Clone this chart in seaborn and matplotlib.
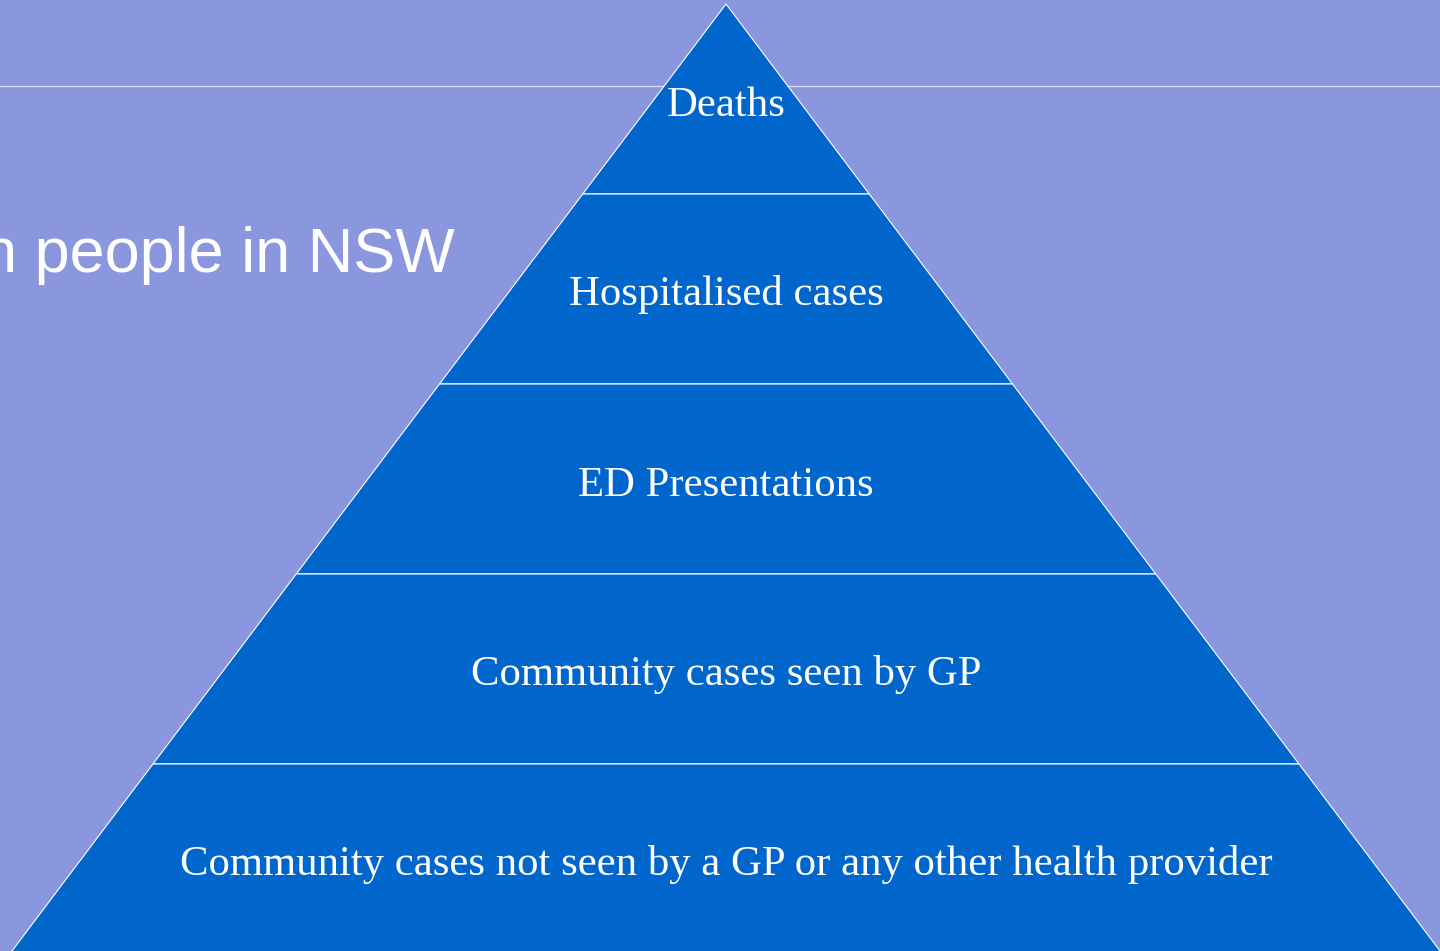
import matplotlib.pyplot as plt
import seaborn as sns

# pyramid levels, top to bottom
levels = [
    "Deaths",
    "Hospitalised cases",
    "ED Presentations",
    "Community cases seen by GP",
    "Community cases not seen by a GP or any other health provider",
]
title_text = "n people in NSW"

bg = "#8a96dd"
blue = "#0066cc"

sns.set_theme(style="white", rc={"axes.facecolor": bg, "figure.facecolor": bg})
plt.rcParams["font.family"] = ["Liberation Serif", "DejaVu Serif"]

fig = plt.figure(figsize=(14.4, 9.51), dpi=100)
ax = fig.add_axes([0, 0, 1, 1])
ax.set_xlim(0, 1440)
ax.set_ylim(951, 0)
ax.axis("off")

# slide header rule behind the pyramid
ax.axhline(86, color="#dfe3f7", lw=0.9, zorder=1)

apex_x, apex_y = 726, 4
band_h = 190
slope = 0.754

for i, name in enumerate(levels):
    y0 = apex_y + i * band_h
    y1 = y0 + band_h
    w0 = (y0 - apex_y) * slope
    w1 = (y1 - apex_y) * slope
    ax.fill([apex_x - w0, apex_x + w0, apex_x + w1, apex_x - w1], [y0, y0, y1, y1],
            facecolor=blue, edgecolor="white", lw=0.8, zorder=2)
    ax.text(apex_x, (y0 + y1) / 2 + 16.5, name, ha="center", va="baseline",
            color="white", fontsize=30.8, zorder=3)

# title of the slide, cut at the left edge as on the original
ax.text(455, 272, title_text, ha="right", va="baseline", fontsize=45.4,
        family=["Liberation Sans", "DejaVu Sans"], color="white", zorder=3)

fig.savefig("out.png", dpi=100, facecolor=bg)
